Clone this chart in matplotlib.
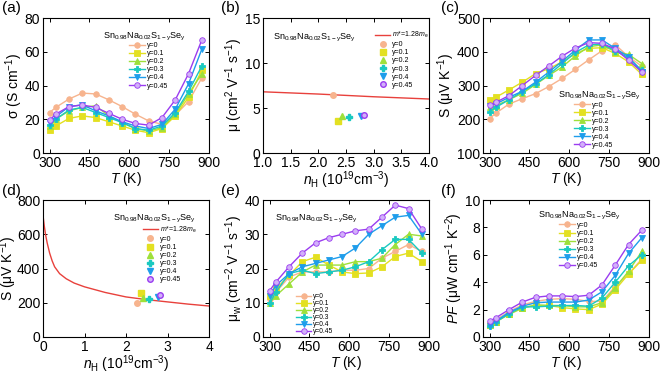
import numpy as np
import matplotlib
matplotlib.use('Agg')
import matplotlib.pyplot as plt

plt.rcParams['font.family'] = ['Liberation Sans', 'DejaVu Sans']
plt.rcParams['mathtext.default'] = 'regular'
plt.rcParams['mathtext.fontset'] = 'custom'
plt.rcParams['mathtext.rm'] = 'Liberation Sans'
plt.rcParams['mathtext.it'] = 'Liberation Sans:italic'

# temperatures (K)
T = [300, 323, 373, 423, 473, 523, 573, 623, 673, 723, 773, 823, 873]
labels = ['y=0', 'y=0.1', 'y=0.2', 'y=0.3', 'y=0.4', 'y=0.45']

# (a) electrical conductivity, S/cm
sigma = [
    [24, 27, 32, 35.5, 35, 31.5, 27.5, 23, 19, 17, 22.5, 30.5, 44.5],
    [13.5, 16, 20.5, 22, 21, 18.5, 16, 13.5, 12, 14.5, 22, 33, 49],
    [16, 20, 25, 27, 28, 22, 18, 14.5, 13, 15, 23, 35, 47],
    [16.5, 20, 25.5, 27, 24, 21, 18, 14.5, 13.5, 16, 24, 36.5, 51.5],
    [18, 21.5, 27.5, 28.5, 25, 22, 18.5, 16, 14.5, 17, 26, 41, 61.5],
    [19.5, 23, 27.5, 28.5, 27, 23.5, 20, 17.5, 16.5, 21, 31.5, 47, 67],
]

# (c) Seebeck coefficient, uV/K
seebeck = [
    [202, 218, 245, 261, 276, 297, 321, 348, 376, 403, 421, 385, 357],
    [256, 265, 287, 310, 335, 350, 370, 395, 410, 412, 395, 370, 333],
    [235, 240, 258, 277, 303, 330, 355, 388, 415, 420, 400, 392, 365],
    [222, 235, 258, 282, 305, 332, 365, 398, 420, 423, 403, 382, 345],
    [240, 245, 265, 283, 310, 340, 372, 405, 435, 435, 410, 385, 340],
    [242, 250, 270, 300, 330, 358, 387, 411, 427, 425, 408, 375, 340],
]

# (e) weighted mobility
mu_w = [
    [11, 13, 17.5, 19, 19, 19, 19.5, 19.5, 20, 23, 25, 27, 25],
    [12, 14, 18, 22, 23.3, 21, 19, 18.5, 18.7, 20.5, 23.5, 24.5, 22],
    [10, 12, 15.5, 19, 21, 21, 21, 22, 22, 23, 27, 30, 29.5],
    [9.8, 13, 18.5, 19.5, 18.5, 19, 19.5, 20.5, 22, 25.5, 28.5, 28.5, 24.5],
    [12, 15, 18.5, 20.5, 21.5, 22.5, 23.5, 26, 30, 32.5, 35, 35.5, 30],
    [13.5, 16, 20.5, 24.5, 27.5, 29, 30, 31, 31.5, 35, 38.5, 37.5, 31.5],
]

# (f) power factor
pf = [
    [0.95, 1.25, 1.85, 2.35, 2.6, 2.75, 2.8, 2.75, 2.6, 2.6, 3.7, 4.6, 5.7],
    [0.85, 1.1, 1.7, 2.15, 2.3, 2.3, 2.15, 2.05, 2.0, 2.4, 3.45, 4.6, 5.6],
    [0.85, 1.1, 1.65, 2.1, 2.35, 2.3, 2.3, 2.2, 2.2, 2.5, 3.6, 4.8, 6.25],
    [0.8, 1.1, 1.7, 2.2, 2.2, 2.25, 2.3, 2.3, 2.25, 2.85, 4.0, 5.2, 6.0],
    [0.8, 1.15, 1.8, 2.25, 2.5, 2.55, 2.55, 2.55, 2.7, 3.3, 4.5, 6.1, 7.25],
    [1.15, 1.4, 2.0, 2.55, 2.9, 3.0, 3.0, 2.95, 3.05, 3.8, 5.25, 6.75, 7.8],
]

# room-temperature Hall data
n_H = [2.27, 2.35, 2.42, 2.55, 2.78, 2.83]
mu_H = [6.5, 3.6, 4.1, 4.05, 4.15, 4.25]
S_rt = [200, 255, 228, 222, 236, 243]

# SPB model curves (m* = 1.28 me)
spb_n_mu = [1.0, 2.0, 3.0, 4.0]
spb_mu = [6.8, 6.55, 6.25, 6.0]
spb_n_S = [0.01, 0.03, 0.06, 0.1, 0.16, 0.22, 0.28, 0.4, 0.56, 0.75, 1.0, 1.5,
           2.0, 2.5, 3.0, 3.5, 4.0]
spb_S = [690, 650, 600, 550, 490, 445, 410, 370, 340, 315, 293, 260,
         234, 218, 205, 192, 181]

colors = ['#F7B48E', '#E3E021', '#9EE03A', '#19C9C0', '#1E9DEB', '#9A3CF0']
markers = ['o', 's', '^', 'P', 'v', 'o']
mfcs = ['#F7B48E', '#E3E021', '#9EE03A', '#19C9C0', '#1E9DEB', '#D2B0FA']

formula = 'Sn$_{0.98}$Na$_{0.02}$S$_{1-y}$Se$_{y}$'
nh_label = '$\\mathit{n}_{H}$ (10$^{19}$cm$^{-3}$)'
model_label = '$\\mathit{m}$*=1.28$\\mathit{m}_{e}$'

fig = plt.figure(figsize=(6.61, 3.74), dpi=100)
W, H = 661, 374


def make_ax(l, t, r, b):
    ax = fig.add_axes([l / W, 1 - b / H, (r - l) / W, (b - t) / H])
    ax.tick_params(direction='in', top=True, right=True, labelsize=10,
                   length=3, width=0.7, pad=2)
    for s in ax.spines.values():
        s.set_linewidth(0.8)
    return ax


rows = [(18, 153), (200, 337)]
cols = [(43, 209), (263, 429), (483, 649)]
axs = [[make_ax(c[0], r[0], c[1], r[1]) for c in cols] for r in rows]
ax_a, ax_b, ax_c = axs[0]
ax_d, ax_e, ax_f = axs[1]


def temp_panel(ax, data):
    for i in range(6):
        ax.plot(T, data[i], color=colors[i], marker=markers[i], ms=4, lw=1,
                mfc=mfcs[i], mec=colors[i], mew=0.6, label=labels[i])
    ax.set_xlim(275, 900)
    ax.set_xticks([300, 450, 600, 750, 900])
    ax.set_xlabel('$\\mathit{T}$ (K)', fontsize=10, labelpad=0)


def small_legend(ax, anchor, spacing=0.15, size=5):
    ax.legend(loc='upper left', bbox_to_anchor=anchor, fontsize=size, frameon=False,
              handlelength=2.2, labelspacing=spacing, borderaxespad=0.0,
              borderpad=0.0, handletextpad=0.3)


# (a)
temp_panel(ax_a, sigma)
ax_a.set_ylim(0, 80)
ax_a.set_yticks([0, 20, 40, 60, 80])
ax_a.set_ylabel('$\\sigma$ (S cm$^{-1}$)', fontsize=10, labelpad=0)
ax_a.text(0.36, 0.85, formula, transform=ax_a.transAxes, fontsize=6.5)
small_legend(ax_a, (0.52, 0.82))

# (b)
ax_b.plot(spb_n_mu, spb_mu, color='#E8413C', lw=1, label=model_label)
for i in range(6):
    ax_b.plot(n_H[i], mu_H[i], ls='none', marker=markers[i], ms=4, color=colors[i],
              mfc=mfcs[i], mec=colors[i], label=labels[i])
ax_b.set_xlim(1.0, 4.0)
ax_b.set_ylim(0, 15)
ax_b.set_xticks([1.0, 1.5, 2.0, 2.5, 3.0, 3.5, 4.0])
ax_b.set_yticks([0, 5, 10, 15])
ax_b.set_xlabel(nh_label, fontsize=10, labelpad=0)
ax_b.set_ylabel('$\\mu$ (cm$^2$ V$^{-1}$ s$^{-1}$)', fontsize=10, labelpad=0)
ax_b.text(0.06, 0.84, formula, transform=ax_b.transAxes, fontsize=6.5)
small_legend(ax_b, (0.675, 0.91))

# (c)
temp_panel(ax_c, seebeck)
ax_c.set_ylim(100, 500)
ax_c.set_yticks([100, 200, 300, 400, 500])
ax_c.set_ylabel('S ($\\mu$V K$^{-1}$)', fontsize=10, labelpad=0)
ax_c.text(0.45, 0.41, formula, transform=ax_c.transAxes, fontsize=6.5)
small_legend(ax_c, (0.55, 0.38))

# (d)
ax_d.plot(spb_n_S, spb_S, color='#E8413C', lw=1, label=model_label)
for i in range(6):
    ax_d.plot(n_H[i], S_rt[i], ls='none', marker=markers[i], ms=4, color=colors[i],
              mfc=mfcs[i], mec=colors[i], label=labels[i])
ax_d.set_xlim(0, 4)
ax_d.set_ylim(0, 800)
ax_d.set_xticks([0, 1, 2, 3, 4])
ax_d.set_yticks([0, 200, 400, 600, 800])
ax_d.set_xlabel(nh_label, fontsize=10, labelpad=0)
ax_d.set_ylabel('S ($\\mu$V K$^{-1}$)', fontsize=10, labelpad=-1.5)
ax_d.text(0.42, 0.85, formula, transform=ax_d.transAxes, fontsize=6.5)
small_legend(ax_d, (0.6, 0.82))

# (e)
temp_panel(ax_e, mu_w)
ax_e.set_ylim(0, 40)
ax_e.set_yticks([0, 10, 20, 30, 40])
ax_e.set_ylabel('$\\mu_{w}$ (cm$^{-2}$ V$^{-1}$ s$^{-1}$)', fontsize=10, labelpad=0)
ax_e.text(0.07, 0.85, formula, transform=ax_e.transAxes, fontsize=6.5)
small_legend(ax_e, (0.2, 0.32), spacing=0.0, size=4.8)

# (f)
temp_panel(ax_f, pf)
ax_f.set_ylim(0, 10)
ax_f.set_yticks([0, 2, 4, 6, 8, 10])
ax_f.set_ylabel('$\\mathit{PF}$ ($\\mu$W cm$^{-1}$ K$^{-2}$)', fontsize=10, labelpad=0)
ax_f.text(0.33, 0.87, formula, transform=ax_f.transAxes, fontsize=6.5)
small_legend(ax_f, (0.46, 0.84))

for lab, (x, y) in zip(['(a)', '(b)', '(c)', '(d)', '(e)', '(f)'],
                       [(2, 1), (221, 1), (441, 1), (2, 184), (221, 184), (441, 184)]):
    fig.text(x / W, 1 - y / H, lab, fontsize=11, va='top', ha='left')

fig.savefig('out.png', dpi=100)
